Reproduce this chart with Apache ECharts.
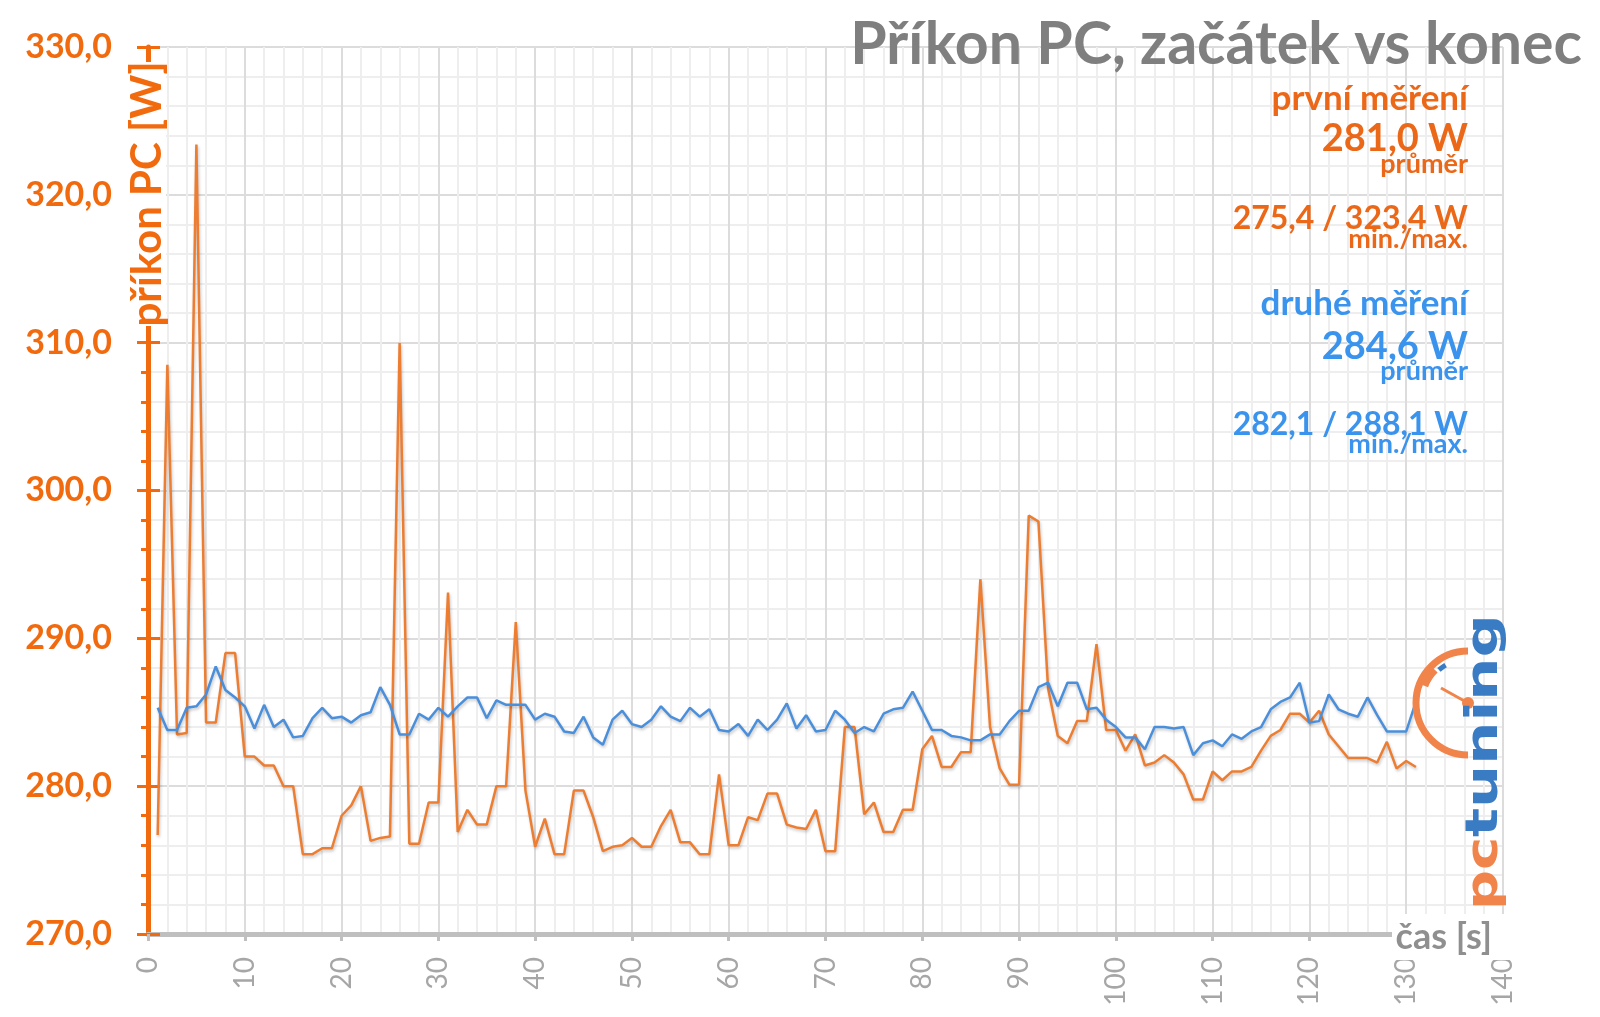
<!DOCTYPE html>
<html><head><meta charset="utf-8">
<script src="https://cdn.jsdelivr.net/npm/echarts@6/dist/echarts.min.js"></script>
<style>html,body{margin:0;padding:0;background:#fff}#c{width:1600px;height:1017px}</style>
</head><body><div id="c"></div>
<script>
// ---- data ----
const seconds = [1,2,3,4,5,6,7,8,9,10,11,12,13,14,15,16,17,18,19,20,
  21,22,23,24,25,26,27,28,29,30,31,32,33,34,35,36,37,38,39,40,
  41,42,43,44,45,46,47,48,49,50,51,52,53,54,55,56,57,58,59,60,
  61,62,63,64,65,66,67,68,69,70,71,72,73,74,75,76,77,78,79,80,
  81,82,83,84,85,86,87,88,89,90,91,92,93,94,95,96,97,98,99,100,
  101,102,103,104,105,106,107,108,109,110,111,112,113,114,115,116,117,118,119,120,
  121,122,123,124,125,126,127,128,129,130,131];
const prvniMereni = [276.7,308.5,283.5,283.6,323.4,284.3,284.3,289.0,289.0,282.0,
  282.0,281.4,281.4,280.0,280.0,275.4,275.4,275.8,275.8,278.0,
  278.7,280.0,276.3,276.5,276.6,310.0,276.1,276.1,278.9,278.9,
  293.1,276.9,278.4,277.4,277.4,280.0,280.0,291.1,279.7,275.9,
  277.8,275.4,275.4,279.7,279.7,277.9,275.6,275.9,276.0,276.5,
  275.9,275.9,277.3,278.4,276.2,276.2,275.4,275.4,280.8,276.0,
  276.0,277.9,277.7,279.5,279.5,277.4,277.2,277.1,278.4,275.6,
  275.6,284.0,284.0,278.1,278.9,276.9,276.9,278.4,278.4,282.5,
  283.4,281.3,281.3,282.3,282.3,294.0,284.0,281.2,280.1,280.1,
  298.3,297.9,286.6,283.4,282.9,284.4,284.4,289.6,283.8,283.8,
  282.4,283.5,281.4,281.6,282.1,281.6,280.8,279.1,279.1,281.0,
  280.4,281.0,281.0,281.3,282.4,283.4,283.8,284.9,284.9,284.3,
  285.1,283.5,282.7,281.9,281.9,281.9,281.6,283.0,281.2,281.7,
  281.3];
const druheMereni = [285.3,283.8,283.8,285.3,285.4,286.2,288.1,286.5,286.0,285.4,
  283.9,285.5,284.0,284.5,283.3,283.4,284.6,285.3,284.6,284.7,
  284.3,284.8,285.0,286.7,285.5,283.5,283.5,284.9,284.5,285.3,
  284.7,285.4,286.0,286.0,284.6,285.8,285.5,285.5,285.5,284.5,
  284.9,284.7,283.7,283.6,284.7,283.3,282.8,284.5,285.1,284.2,
  284.0,284.5,285.4,284.7,284.4,285.3,284.7,285.2,283.8,283.7,
  284.2,283.4,284.5,283.8,284.5,285.6,283.9,284.8,283.7,283.8,
  285.1,284.5,283.6,284.0,283.7,284.9,285.2,285.3,286.4,285.1,
  283.8,283.8,283.4,283.3,283.1,283.1,283.5,283.5,284.4,285.1,
  285.1,286.7,287.0,285.4,287.0,287.0,285.2,285.3,284.5,284.0,
  283.3,283.3,282.5,284.0,284.0,283.9,284.0,282.1,282.9,283.1,
  282.7,283.5,283.2,283.7,284.0,285.2,285.7,286.0,287.0,284.3,
  284.4,286.2,285.2,284.9,284.7,286.0,284.8,283.7,283.7,283.7,
  285.7];
const titleText = 'Příkon PC, začátek vs konec';
const yAxisName = 'příkon PC [W]';
const xAxisName = 'čas [s]';
const firstLabel = 'první měření';
const firstAvg = '281,0 W';
const firstMinMax = '275,4 / 323,4 W';
const secondLabel = 'druhé měření';
const secondAvg = '284,6 W';
const secondMinMax = '282,1 / 288,1 W';
const avgLabel = 'průměr';
const minMaxLabel = 'min./max.';

// ---- colours ----
const ORANGE_AX = '#f26a0e';
const ORANGE_TXT = '#ec6819';
const ORANGE_LINE = '#ed7d31';
const BLUE_LINE = '#4a8fdc';
const BLUE_TXT = '#3a93ec';
const GRAY = '#7f7f7f';

const chart = echarts.init(document.getElementById('c'), null, {renderer: 'canvas'});

function txt(text, x, baseline, size, color, align, weight) {
  return {
    type: 'text', z: 100,
    style: {
      text: text, x: x, y: baseline - 0.32 * size,
      fill: color, textAlign: align || 'right', textVerticalAlign: 'middle',
      font: (weight || 'bold') + ' ' + size + 'px Lato'
    }
  };
}

const RX = 1468;
const graphics = [
  txt(titleText, 1582, 64, 59, GRAY),
  txt(firstLabel, RX, 110, 35, ORANGE_TXT),
  txt(firstAvg, RX, 151, 38, ORANGE_TXT),
  txt(avgLabel, RX, 173, 27, ORANGE_TXT),
  txt(firstMinMax, RX, 229, 32, ORANGE_TXT),
  txt(minMaxLabel, RX, 248, 27, ORANGE_TXT),
  txt(secondLabel, RX, 315, 35, BLUE_TXT),
  txt(secondAvg, RX, 359, 38, BLUE_TXT),
  txt(avgLabel, RX, 380, 27, BLUE_TXT),
  txt(secondMinMax, RX, 435, 32, BLUE_TXT),
  txt(minMaxLabel, RX, 453, 27, BLUE_TXT),
  // y axis name with white backing
  {type: 'rect', z: 90, shape: {x: 126, y: 62, width: 40, height: 264}, style: {fill: '#fff'}},
  {type: 'text', z: 100, x: 147.5, y: 194, rotation: Math.PI / 2,
    style: {text: yAxisName, fill: ORANGE_AX, font: 'bold 42px Lato', textAlign: 'center', textVerticalAlign: 'middle'}},
  // x axis name with white backing
  {type: 'rect', z: 90, shape: {x: 1392, y: 914, width: 122, height: 46}, style: {fill: '#fff'}},
  txt(xAxisName, 1492, 949, 36, '#8f8f8f'),
  // logo
  {type: 'arc', z: 100, shape: {cx: 1468, cy: 703, r: 52, startAngle: Math.PI / 2, endAngle: Math.PI * 1.5, clockwise: true},
    style: {stroke: '#f0844a', lineWidth: 7, fill: null}},
  {type: 'arc', z: 101, shape: {cx: 1468, cy: 703, r: 47, startAngle: Math.PI * 1.12, endAngle: Math.PI * 1.25, clockwise: true},
    style: {stroke: '#f0844a', lineWidth: 8, fill: null}},
  {type: 'arc', z: 101, shape: {cx: 1468, cy: 703, r: 44, startAngle: Math.PI * 1.27, endAngle: Math.PI * 1.33, clockwise: true},
    style: {stroke: '#3a7cc4', lineWidth: 5, fill: null}},
  {type: 'line', z: 100, shape: {x1: 1441, y1: 688, x2: 1468, y2: 703}, style: {stroke: '#f0844a', lineWidth: 3}},
  {type: 'circle', z: 100, shape: {cx: 1468, cy: 703, r: 6}, style: {fill: '#f0844a'}},
  {type: 'text', z: 100, x: 1486, y: 837, rotation: Math.PI / 2, scaleX: 1.38,
    style: {text: 'tuning', fill: '#3a7cc4', font: 'bold 44px "DejaVu Sans"', textAlign: 'left', textVerticalAlign: 'middle'}},
  {type: 'text', z: 100, x: 1486, y: 910, rotation: Math.PI / 2, scaleX: 1.27,
    style: {text: 'pc', fill: '#f0844a', font: 'bold 44px "DejaVu Sans"', textAlign: 'left', textVerticalAlign: 'middle'}}
];

const lineShadow = {shadowColor: 'rgba(0,0,0,0.22)', shadowBlur: 3, shadowOffsetX: 1, shadowOffsetY: 2};

chart.setOption({
  backgroundColor: '#ffffff',
  animation: false,
  grid: {left: 148, right: 97, top: 47, bottom: 83, containLabel: false},
  xAxis: {
    type: 'value', min: 0, max: 140, interval: 10,
    axisLine: {show: true, lineStyle: {color: '#bfbfbf', width: 5}},
    axisTick: {show: true, length: 7, lineStyle: {color: '#bfbfbf', width: 3}},
    minorTick: {show: false, splitNumber: 5},
    splitLine: {show: true, lineStyle: {color: '#dcdcdc', width: 2}},
    minorSplitLine: {show: true, lineStyle: {color: '#eeeeee', width: 2}},
    axisLabel: {rotate: 90, margin: 23, color: '#a6a6a6', fontFamily: 'Lato', fontSize: 28}
  },
  yAxis: [{
    type: 'value', min: 270, max: 330, interval: 10, position: 'left',
    axisLine: {show: true, lineStyle: {color: ORANGE_AX, width: 5}},
    axisTick: {show: true, length: 11, lineStyle: {color: ORANGE_AX, width: 3}},
    minorTick: {show: true, splitNumber: 5, length: 7, lineStyle: {color: ORANGE_AX, width: 3}},
    splitLine: {show: true, lineStyle: {color: '#dcdcdc', width: 2}},
    minorSplitLine: {show: true, lineStyle: {color: '#eeeeee', width: 2}},
    axisLabel: {margin: 36, color: ORANGE_AX, fontFamily: 'Lato', fontWeight: 'bold', fontSize: 34,
      formatter: v => v.toFixed(1).replace('.', ',')}
  }, {
    type: 'value', min: 270, max: 330, interval: 10, position: 'left', offset: 0,
    axisLine: {show: false},
    axisTick: {show: true, inside: true, length: 12, lineStyle: {color: ORANGE_AX, width: 3}},
    axisLabel: {show: false},
    splitLine: {show: false}
  }],
  series: [{
    name: firstLabel, type: 'line', yAxisIndex: 0, showSymbol: false, symbol: 'none',
    data: seconds.map((s, i) => [s, prvniMereni[i]]),
    lineStyle: Object.assign({color: ORANGE_LINE, width: 2.5}, lineShadow), z: 3
  }, {
    name: secondLabel, type: 'line', yAxisIndex: 0, showSymbol: false, symbol: 'none',
    data: seconds.map((s, i) => [s, druheMereni[i]]),
    lineStyle: Object.assign({color: BLUE_LINE, width: 2.5}, lineShadow), z: 4
  }],
  graphic: {elements: graphics}
});
</script></body></html>
